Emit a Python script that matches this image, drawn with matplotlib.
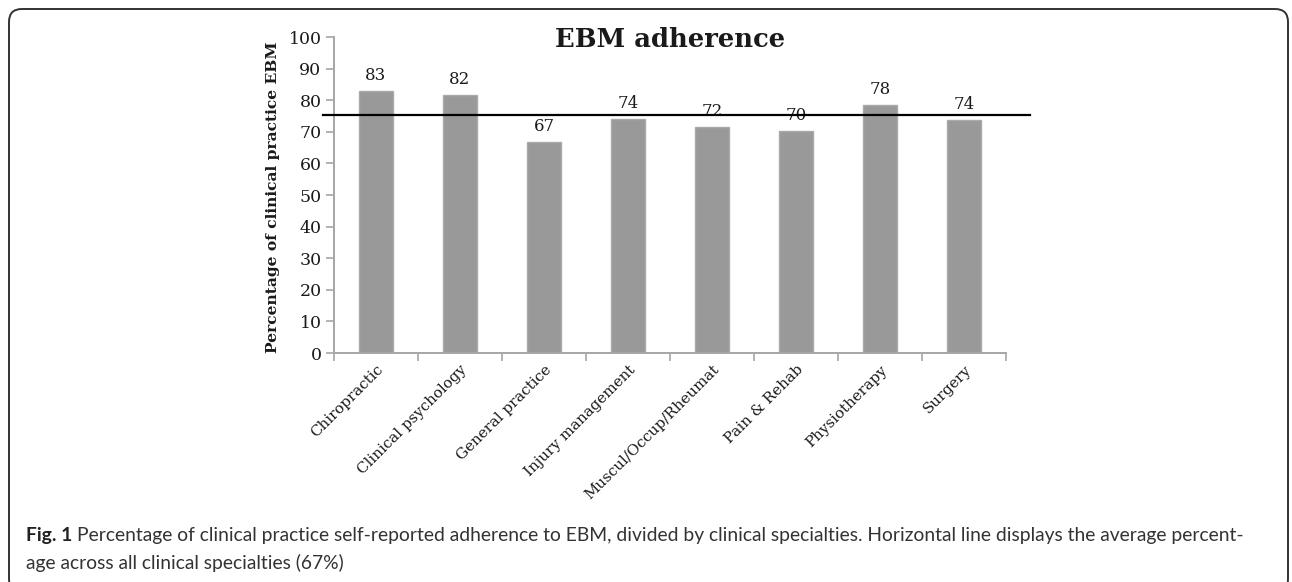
import numpy as np
import matplotlib
matplotlib.use('Agg')
from matplotlib import pyplot as plt
from matplotlib.patches import FancyBboxPatch

# data
specialties = ['Chiropractic', 'Clinical psychology', 'General practice',
               'Injury management', 'Muscul/Occup/Rheumat', 'Pain & Rehab',
               'Physiotherapy', 'Surgery']
adherence = [83.0, 81.7, 66.8, 74.0, 71.6, 70.2, 78.4, 73.8]
bar_labels = ['83', '82', '67', '74', '72', '70', '78', '74']
average = 75.3

W, H = 1292, 582
fig = plt.figure(figsize=(W/100., H/100.), dpi=100)
ax = fig.add_axes([334/W, 1-353/H, 672/W, 316/H])

serif = 'DejaVu Serif'
axcol = '#a6a6a6'
txtcol = '#1a1a1a'


def fit_size(t, target, vertical=False):
    # scale a text's font so its drawn extent matches target pixels
    fig.canvas.draw()
    bb = t.get_window_extent()
    w = bb.height if vertical else bb.width
    t.set_fontsize(t.get_fontsize()*target/w)


x = np.arange(len(specialties))
ax.bar(x, adherence, width=0.4, color='#999999', edgecolor='#aaaaaa', linewidth=1.0, zorder=2)

for xi, v, lab in zip(x, adherence, bar_labels):
    ax.annotate(lab, (xi, v), xytext=(0, 5), textcoords='offset points',
                ha='center', va='bottom', fontsize=12, family=serif, color=txtcol)

# average line, runs a bit past the plot on both sides
ax.plot([-0.63, 7.79], [average, average], color='black', lw=1.6, clip_on=False, zorder=3)

ax.set_xlim(-0.5, 7.5)
ax.set_ylim(0, 100)
ax.set_yticks(np.arange(0, 101, 10))
ax.set_xticks(x)
ax.set_xticks(np.arange(-0.5, 8, 1), minor=True)
ax.set_xticklabels(specialties, rotation=45, ha='right', rotation_mode='anchor',
                   fontsize=10.8, family=serif, color=txtcol)
ax.tick_params(axis='x', which='major', length=0, pad=7)
ax.tick_params(axis='x', which='minor', length=6, width=1.2, color=axcol, direction='out')
ax.tick_params(axis='y', length=6, width=1.2, color=axcol, direction='out', pad=3,
               labelsize=12.5, labelcolor=txtcol)
for t in ax.get_yticklabels():
    t.set_family(serif)

for s in ['top', 'right']:
    ax.spines[s].set_visible(False)
for s in ['left', 'bottom']:
    ax.spines[s].set_color(axcol)
    ax.spines[s].set_linewidth(1.4)

yl = ax.set_ylabel('Percentage of clinical practice EBM', fontsize=11, family=serif,
                   fontweight='bold', color=txtcol)
ax.yaxis.set_label_coords(-0.080, 0.494)
fit_size(yl, 311, vertical=True)

title = fig.text(670/W, 1-47/H, 'EBM adherence', ha='center', va='baseline',
                 fontsize=20, family=serif, fontweight='bold', color=txtcol)
fit_size(title, 230)

# caption
capfont = 'Lato'
capcol = '#333333'
cap1 = ('Percentage of clinical practice self-reported adherence to EBM, divided by clinical '
        'specialties. Horizontal line displays the average percent-')
cap2 = 'age across all clinical specialties (67%)'
t1 = fig.text(26/W, 1-541/H, 'Fig. 1', ha='left', va='baseline', fontsize=14,
              family=capfont, fontweight='bold', color='#222222')
t2 = fig.text(0, 1-541/H, cap1, ha='left', va='baseline', fontsize=14,
              family=capfont, color=capcol)
t3 = fig.text(26/W, 1-569/H, cap2, ha='left', va='baseline', fontsize=14,
              family=capfont, color=capcol)


def place_caption():
    fig.canvas.draw()
    b1 = t1.get_window_extent()
    t2.set_x((b1.x1 + 5)/W)


place_caption()
fig.canvas.draw()
total = t2.get_window_extent().x1 - t1.get_window_extent().x0
scale = 1227./total
for t in (t1, t2, t3):
    t.set_fontsize(t.get_fontsize()*scale)
place_caption()

box = FancyBboxPatch((9/W, -10/H), 1279/W, 583/H,
                     boxstyle='round,pad=0,rounding_size=0.01',
                     transform=fig.transFigure, fill=False, edgecolor='#333333',
                     linewidth=1.4, mutation_aspect=W/H)
fig.patches.append(box)

plt.savefig('out.png', dpi=100)
